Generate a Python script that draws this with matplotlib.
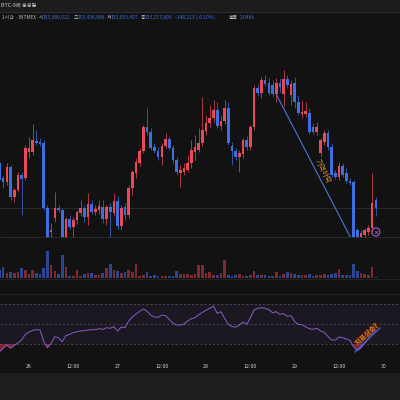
import matplotlib
matplotlib.use('Agg')
import matplotlib.pyplot as plt
import matplotlib.patheffects as pe
from matplotlib.patches import Rectangle
from matplotlib.lines import Line2D

plt.rcParams['font.family'] = ['Noto Sans CJK KR', 'DejaVu Sans']

# ---------------- data (1h candles, price in million KRW) ----------------
hours = list(range(-8, 95))  # hours relative to 26th 00:00
opens = [154.12,153.82,153.74,154.04,153.44,153.58,153.88,153.82,154.34,154.34,
         154.56,154.54,154.52,153.22,152.74,153.02,153.22,153.18,152.64,153.00,
         152.84,152.98,153.12,153.22,153.04,153.30,153.14,153.18,153.24,153.00,
         153.24,153.12,153.36,152.86,153.24,153.08,153.62,153.92,154.12,154.36,
         154.84,154.74,154.44,154.36,154.24,154.46,154.60,154.42,154.18,153.92,
         153.94,153.98,154.12,154.34,154.38,154.52,154.76,154.92,155.02,155.18,
         154.86,154.96,155.22,154.46,154.36,154.24,154.30,154.58,154.44,154.84,
         155.62,155.52,155.78,155.72,155.68,155.50,155.72,155.50,155.80,155.48,
         155.72,155.34,155.10,155.10,155.12,154.84,154.74,154.32,154.54,154.72,
         154.44,153.92,153.84,154.06,153.92,153.76,153.74,152.78,152.64,152.68,
         152.74,152.82,153.37]
highs = [154.18,153.88,154.12,154.08,153.62,153.94,153.94,154.48,154.64,154.90,
         154.78,154.62,154.58,153.28,152.92,153.54,153.28,153.22,153.04,153.08,
         153.04,153.18,153.38,153.28,153.52,153.38,153.28,153.38,153.38,153.28,
         153.32,153.52,153.46,153.28,153.32,153.68,153.98,154.22,154.42,154.88,
         155.22,154.82,154.52,154.44,154.52,154.72,154.66,154.48,154.24,154.08,
         154.12,154.28,154.58,154.68,154.82,155.44,155.08,155.28,155.38,155.34,
         155.08,155.38,155.34,154.54,154.42,154.38,154.62,154.66,154.88,155.68,
         155.70,155.84,155.88,155.82,155.78,155.82,155.82,155.98,155.88,155.78,
         155.84,155.48,155.38,155.34,155.22,154.92,154.94,154.62,154.78,154.78,
         154.52,153.98,154.14,154.12,154.02,153.82,153.78,152.82,152.78,152.82,
         152.88,153.92,153.44]
lows = [153.74,153.62,153.68,153.38,153.34,153.54,153.08,153.78,154.22,154.28,
        154.48,154.46,153.18,152.64,152.64,152.94,153.14,152.64,152.64,152.80,
        152.64,152.90,153.06,152.94,152.88,153.10,153.08,153.10,152.92,152.88,
        152.64,153.06,152.80,152.78,152.98,153.02,153.48,153.82,154.06,154.32,
        154.68,154.38,154.32,154.18,154.08,154.42,154.38,154.12,153.88,153.64,
        153.88,153.94,154.02,154.18,154.34,154.46,154.68,154.84,154.94,154.82,
        154.78,154.90,154.48,154.08,154.18,153.94,154.22,154.38,154.38,154.78,
        155.46,155.42,155.66,155.48,155.44,155.34,155.54,155.26,155.62,155.28,
        155.22,155.08,155.02,155.04,154.70,154.70,154.68,154.26,154.48,154.38,
        153.84,153.80,153.78,153.84,153.72,153.68,152.64,152.64,152.64,152.64,
        152.68,152.74,153.05]
closes = [153.78,153.74,154.04,153.44,153.58,153.88,153.80,154.42,154.42,154.58,
          154.52,154.50,153.22,152.64,152.78,153.22,153.18,152.64,153.00,152.84,
          152.98,153.14,153.22,153.04,153.30,153.14,153.20,153.26,153.00,153.24,
          153.14,153.36,152.86,153.22,153.08,153.62,153.94,154.14,154.36,154.84,
          154.74,154.42,154.36,154.24,154.46,154.60,154.42,154.18,153.94,153.98,
          154.02,154.12,154.38,154.44,154.52,154.78,154.92,155.02,155.18,154.86,
          154.96,155.22,154.52,154.36,154.24,154.32,154.58,154.44,154.84,155.62,
          155.52,155.78,155.70,155.52,155.50,155.72,155.64,155.80,155.68,155.70,
          155.34,155.12,155.14,155.16,154.74,154.74,154.84,154.58,154.72,154.44,
          153.88,153.84,154.06,153.88,153.76,153.72,152.64,152.64,152.72,152.78,
          152.82,153.32,153.22]
volumes = [8,11,5,6,5,6,10,8,4,8,5,4,10,27,13,7,4,23,11,2,2,8,2,4,5,5,3,3,5,10,14,
           8,7,5,6,8,6,14,2,3,6,2,3,2,2,2,2,2,7,4,4,4,3,4,13,13,5,6,3,3,5,18,3,2,3,
           4,2,2,3,7,3,3,3,2,2,6,2,4,6,5,4,3,3,3,4,2,3,3,4,3,4,5,9,3,3,3,14,7,5,4,3,
           11,1]
rsi = [22.3,25.7,29,25.7,28.7,31,34,39.7,
       42,43.7,44.3,44,32.3,26.3,30.7,37.3,36.3,32.3,
       38.3,39.7,41.3,42.3,43,43.3,44,44.3,44.3,45.3,
       44.7,46.3,45.7,47.3,43,47,46.3,53,57,60,
       62.7,65,62.7,58.7,57,56.7,59,58.3,54.7,51,
       49,49,50,53,55.3,56.3,59.3,61.7,63.7,65.7,
       68,60.7,62.3,55.7,49.7,47.3,47,49,52,49.7,
       56.3,64,65.7,66.3,65.7,64.3,61.3,62.3,59.7,60.3,
       57.7,58.3,52.3,49.7,49.3,47,45.3,44.7,45.7,43,
       41.7,37.7,34,34,37,36.3,35,33.7,27,23.3,
       26.3,30.7,35.7,40.7,42.3]
tick_hours = [0, 12, 24, 36, 48, 60, 72, 84, 96]
tick_labels = ['26', '12:00', '27', '12:00', '28', '12:00', '29', '12:00', '30']
current_price = 153.22
low_line = 152.64
trend_price = [(66.9, 155.51), (87.0, 152.65)]
trend_rsi = [(88.3, 22), (95.1, 46)]

# ---------------- style ----------------
BG = '#121212'
UP = '#e84a5a'
DN = '#3d6fe0'
UPV = '#7c2a33'
DNV = '#2a4692'

W, H = 400, 400
fig = plt.figure(figsize=(4, 4), dpi=100)
fig.patch.set_facecolor(BG)

def ax_at(top, bottom):
    ax = fig.add_axes([0, 1 - bottom / H, 1, (bottom - top) / H])
    ax.set_facecolor('none')
    for s in ax.spines.values():
        s.set_visible(False)
    ax.set_xticks([]); ax.set_yticks([])
    ax.set_xlim(-29 / 3.69, (400 - 29) / 3.69)
    return ax

# top bar
fig.patches.append(Rectangle((0, 1 - 11.5 / H), 1, 11.5 / H, transform=fig.transFigure,
                             color='#1c1c1c', zorder=0))
fig.lines.append(Line2D([0, 1], [1 - 11.5 / H] * 2, transform=fig.transFigure,
                        color='#2e2e2e', lw=0.7))
fig.text(1 / W, 1 - 5.5 / H, 'BTC-9에 생성됨', color='#c8c8c8', fontsize=3.8,
         va='center', ha='left')

# info line
y_info = 1 - 17.5 / H
blue_t = '#3f6fe0'
grey_t = '#b8b8b8'
pieces = [(2, '1시간 · BITMEX', grey_t), (39, '시', grey_t), (43, '153,366,022', blue_t),
          (74, '고', grey_t), (78, '153,436,666', blue_t), (107, '저', grey_t),
          (111, '153,053,497', blue_t), (141, '종', grey_t), (145, '153,217,809', blue_t),
          (175, '-148,213 (-0.10%)', blue_t), (229, '볼륨', grey_t), (240, '2.046k', blue_t)]
for x, t, c in pieces:
    fig.text(x / W, y_info, t, color=c, fontsize=3.5, va='center', ha='left')

# bottom strip
fig.patches.append(Rectangle((0, 0), 1, 27 / H, transform=fig.transFigure,
                             color='#1e1e1e', zorder=0))
for yy in (278.5, 293.5):
    fig.lines.append(Line2D([0, 1], [1 - yy / H] * 2, transform=fig.transFigure,
                            color='#262626', lw=0.6))

# ---------------- price pane ----------------
axp = ax_at(25, 240)
axp.set_ylim(152.58, 156.88)
axp.axhline(current_price, color='#2e2e2e', lw=0.6, zorder=0)
axp.axhline(low_line, color='#2e2e2e', lw=0.6, zorder=0)
cols = [UP if c >= o else DN for o, c in zip(opens, closes)]
axp.vlines(hours, lows, highs, colors=cols, lw=0.5, zorder=2)
bottoms = [min(o, c) for o, c in zip(opens, closes)]
heights = [max(abs(c - o), 0.02) for o, c in zip(opens, closes)]
axp.bar(hours, heights, bottom=bottoms, width=0.72, color=cols, lw=0, zorder=3)

(x1, y1), (x2, y2) = trend_price
axp.plot([x1, x2], [y1, y2], color='#4a78d8', lw=0.8, zorder=4)
axp.text(79.6, 153.96, '가격하락', color='#e8993a', fontsize=5.2, rotation=-62.5,
         ha='center', va='center', rotation_mode='anchor', zorder=5)
axp.scatter([94], [152.74], s=34, facecolors='none', edgecolors='#a35ccc', lw=0.8, zorder=6)
axp.scatter([94], [152.74], s=4, marker='x', color='#a35ccc', lw=0.6, zorder=6)

# ---------------- volume pane ----------------
axv = ax_at(245, 278)
axv.set_ylim(0, 33)
vcols = [UPV if c >= o else DNV for o, c in zip(opens, closes)]
axv.bar(hours, volumes, width=0.72, color=vcols, lw=0)

# ---------------- RSI pane ----------------
axr = ax_at(295, 360)
axr.set_ylim(14, 79)
axr.axhspan(30, 70, color='#7e57c2', alpha=0.09, lw=0)
for lvl in (70, 50, 30):
    axr.axhline(lvl, color='#5a5a62', lw=0.5, ls=(0, (3, 3)))
axr.plot(hours, rsi, color='#8a5cc8', lw=0.7, zorder=3)
axr.fill_between(hours, rsi, 30, where=[r < 30 for r in rsi], interpolate=True,
                 color='#d8304a', alpha=0.55, lw=0, zorder=2)
(a1, b1), (a2, b2) = trend_rsi
axr.plot([a1, a2], [b1, b2], color='#4a5cf0', lw=0.9, zorder=4)
axr.text(91.5, 39, '지표상승?', color='#f0a040', fontsize=5, rotation=43,
         ha='center', va='center', rotation_mode='anchor', zorder=5,
         path_effects=[pe.withStroke(linewidth=1.2, foreground='#6a2a10')])

axr.set_xticks(tick_hours)
axr.set_xticklabels(tick_labels, color='#d1d4dc', fontsize=3.8)
axr.tick_params(axis='x', length=0, pad=3.2)

fig.savefig('out.png', dpi=100, facecolor=BG)
